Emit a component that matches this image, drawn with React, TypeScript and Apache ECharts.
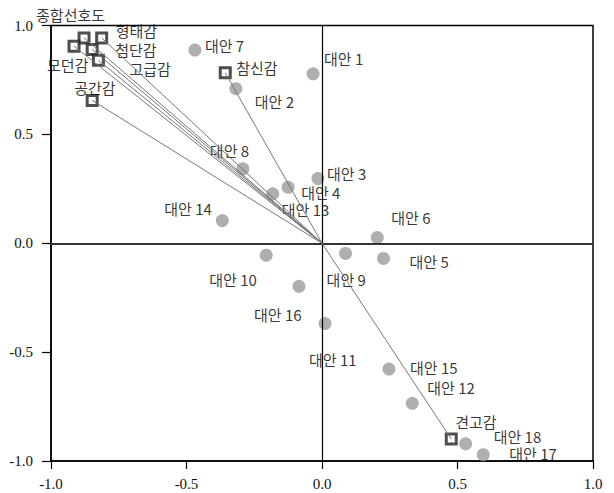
import React, { useEffect, useRef } from "react";
import * as echarts from "echarts";

const altNames = [
  "대안 1", "대안 2", "대안 3", "대안 4", "대안 5", "대안 6", "대안 7", "대안 8", "대안 9",
  "대안 10", "대안 11", "대안 12", "대안 13", "대안 14", "대안 15", "대안 16", "대안 17", "대안 18",
];
const altX = [-0.033, -0.318, -0.015, -0.125, 0.227, 0.204, -0.469, -0.292, 0.087, -0.206, 0.011, 0.333, -0.182, -0.368, 0.247, -0.085, 0.595, 0.53];
const altY = [0.778, 0.71, 0.297, 0.257, -0.07, 0.026, 0.887, 0.342, -0.047, -0.055, -0.369, -0.735, 0.227, 0.104, -0.578, -0.198, -0.971, -0.921];

const attrNames = ["형태감", "종합선호도", "모던감", "첨단감", "고급감", "공간감", "참신감", "견고감"];
const attrX = [-0.813, -0.878, -0.915, -0.848, -0.825, -0.848, -0.357, 0.477];
const attrY = [0.943, 0.943, 0.905, 0.89, 0.84, 0.656, 0.783, -0.899];

const axisTicks = [-1, -0.5, 0, 0.5, 1];

// label offsets (text left edge / vertical centre relative to the marker centre)
const altLabelOffsets = [
  [11, -15], [19, 13], [9, -5], [13, 5], [26, 3], [14, -20], [10, -5], [-33, -18], [-19, 26],
  [-57, 24], [-16, 36], [15, -16], [9, 16], [-58, -12], [21, -2], [-45, 28], [26, -1], [28, -7],
];
const attrLabelOffsets = [[14, -7], [-48, -23], [-27, 18], [23, 0], [31, 8], [-18, -13], [11, -5], [4, -18]];

const labelFont = "'Noto Sans CJK KR', 'Noto Sans', sans-serif";
const tickFont = "'Liberation Serif', 'DejaVu Serif', serif";

export default function App() {
  const ref = useRef<HTMLDivElement>(null);
  useEffect(() => {
    if (!ref.current) return;
    const chart = echarts.init(ref.current, null, { renderer: "svg" });
    const labelBase = {
      show: true,
      formatter: "{b}",
      position: "inside",
      align: "left",
      verticalAlign: "middle",
      color: "#000",
      fontSize: 15,
      lineHeight: 15,
      fontFamily: labelFont,
    };
    const axisCommon = {
      type: "value",
      min: axisTicks[0],
      max: axisTicks[axisTicks.length - 1],
      interval: 0.5,
      splitLine: { show: false },
      axisLine: { show: true, onZero: false, lineStyle: { color: "#000", width: 1.5 } },
      axisTick: { show: true, inside: false, lineStyle: { color: "#000", width: 1.2 } },
    };
    chart.setOption({
      animation: false,
      grid: {
        left: 51,
        right: 21,
        top: 25.5,
        bottom: 32,
        show: true,
        borderColor: "#000",
        borderWidth: 1.5,
        backgroundColor: "transparent",
      },
      xAxis: {
        ...axisCommon,
        position: "bottom",
        axisTick: { ...axisCommon.axisTick, length: 8 },
        axisLabel: {
          margin: 15,
          color: "#111",
          fontSize: 15,
          fontFamily: tickFont,
          formatter: (v: number) => v.toFixed(1),
        },
      },
      yAxis: {
        ...axisCommon,
        position: "left",
        axisTick: { ...axisCommon.axisTick, length: 9 },
        axisLabel: {
          margin: 18,
          color: "#111",
          fontSize: 15,
          fontFamily: tickFont,
          formatter: (v: number) => v.toFixed(1),
        },
      },
      series: [
        {
          type: "scatter",
          data: [],
          silent: true,
          markLine: {
            silent: true,
            symbol: ["none", "none"],
            label: { show: false },
            data: [
              { xAxis: 0, lineStyle: { color: "#000", width: 1.2, type: "solid" } },
              { yAxis: 0, lineStyle: { color: "#333", width: 2, type: "solid" } },
            ],
          },
        },
        {
          type: "scatter",
          data: [],
          silent: true,
          markLine: {
            silent: true,
            symbol: ["none", "none"],
            label: { show: false },
            lineStyle: { color: "#777", width: 1, type: "solid" },
            data: attrX.map((x, i) => [{ coord: [0, 0] }, { coord: [x, attrY[i]] }]),
          },
        },
        {
          type: "scatter",
          symbol: "circle",
          symbolSize: 13,
          itemStyle: { color: "#9b9b9b" },
          label: labelBase,
          data: altNames.map((n, i) => ({
            name: n,
            value: [altX[i], altY[i]],
            label: { offset: altLabelOffsets[i] },
          })),
        },
        {
          type: "scatter",
          symbol: "rect",
          symbolSize: 10,
          itemStyle: { color: "#fff", borderColor: "#222", borderWidth: 3 },
          label: labelBase,
          data: attrNames.map((n, i) => ({
            name: n,
            value: [attrX[i], attrY[i]],
            label: { offset: attrLabelOffsets[i] },
          })),
        },
      ],
    });
    return () => chart.dispose();
  }, []);
  return (
    <div
      ref={ref}
      style={{ position: "fixed", left: 0, top: 0, width: 614, height: 493, background: "#fff" }}
    />
  );
}
